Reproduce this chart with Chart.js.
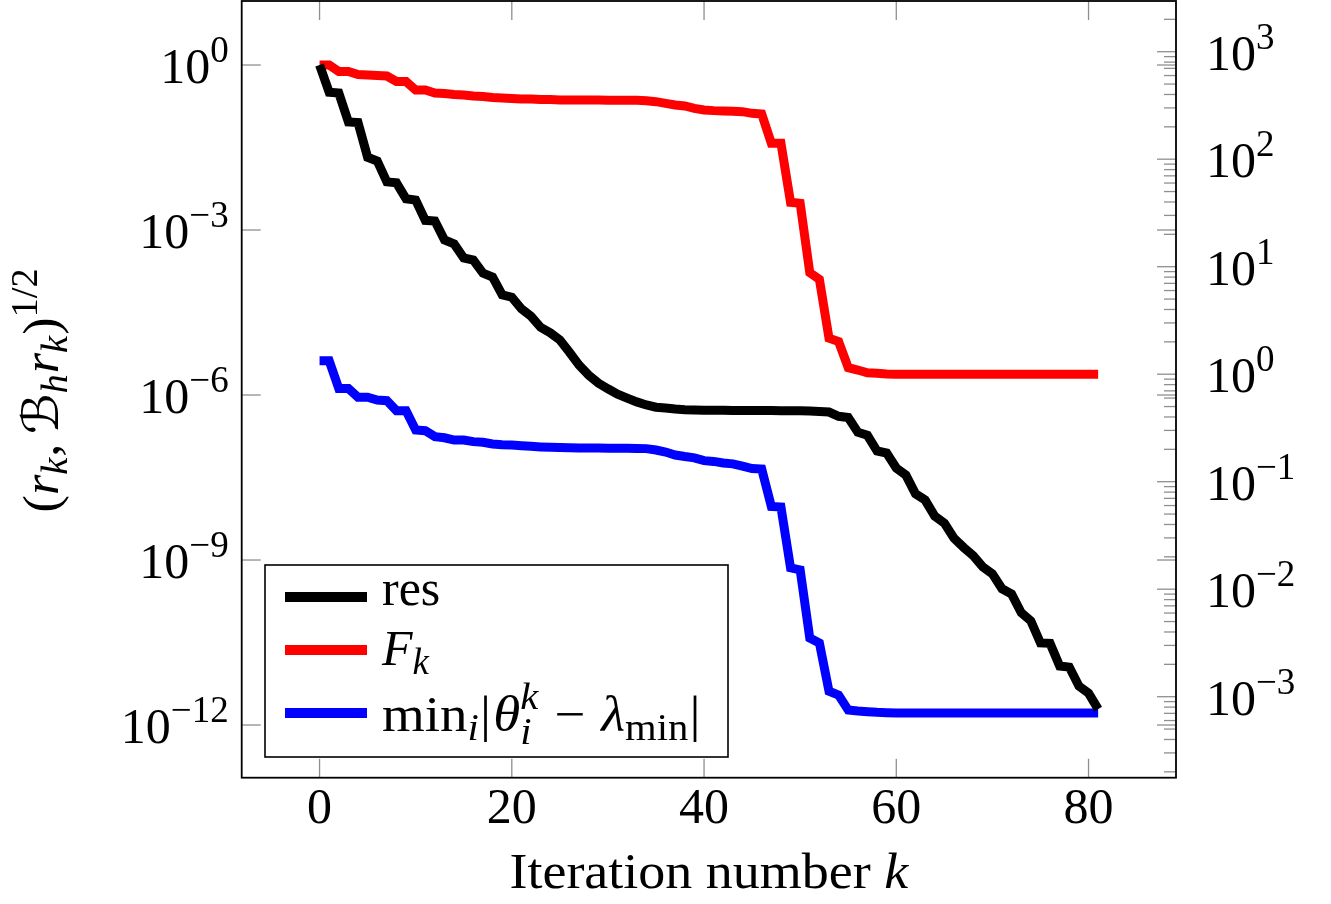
<!DOCTYPE html>
<html>
<head>
<meta charset="utf-8">
<script src="https://cdn.jsdelivr.net/npm/chart.js@4.4.1/dist/chart.umd.min.js"></script>
<style>
  html, body { margin: 0; padding: 0; background: #fff; }
  #wrap { width: 1331px; height: 904px; }
</style>
</head>
<body>
<div id="wrap"><canvas id="chart" width="1331" height="904"></canvas></div>
<script>
// ====== Data ======
const resValues = [
  1.0, 3.2e-1, 3.1e-1, 9.2e-2, 9.0e-2, 2.1e-2, 1.8e-2, 7.5e-3, 7.2e-3, 3.7e-3,
  3.5e-3, 1.5e-3, 1.46e-3, 6.6e-4, 5.6e-4, 3.1e-4, 2.85e-4, 1.65e-4, 1.4e-4, 6.6e-5,
  6.0e-5, 3.7e-5, 2.7e-5, 1.7e-5, 1.35e-5, 1.0e-5, 6.0e-6, 3.5e-6, 2.3e-6, 1.65e-6,
  1.3e-6, 1.04e-6, 8.8e-7, 7.5e-7, 6.6e-7, 6.0e-7, 5.8e-7, 5.55e-7, 5.4e-7, 5.35e-7,
  5.3e-7, 5.28e-7, 5.26e-7, 5.25e-7, 5.24e-7, 5.23e-7, 5.22e-7, 5.21e-7, 5.2e-7, 5.19e-7,
  5.18e-7, 5.1e-7, 5.0e-7, 4.9e-7, 4.1e-7, 3.9e-7, 2.1e-7, 1.85e-7, 9.6e-8, 8.8e-8,
  4.7e-8, 3.5e-8, 1.6e-8, 1.23e-8, 6.3e-9, 4.7e-9, 2.5e-9, 1.7e-9, 1.2e-9, 7.5e-10,
  5.6e-10, 3.0e-10, 2.4e-10, 1.1e-10, 7.8e-11, 3.1e-11, 3.05e-11, 1.18e-11, 1.13e-11, 5.1e-12,
  3.8e-12, 1.95e-12,
];

const fkValues = [
  752, 752, 655, 655, 614, 607, 601, 594, 528, 528,
  440, 440, 413, 408, 400, 396, 387, 383, 375, 371,
  367, 363, 363, 359, 359, 356, 356, 355, 355, 355,
  354, 354, 354, 353, 350, 343, 331, 319, 313, 297,
  287, 283, 281, 279, 277, 267, 263, 141, 141, 39.7,
  38.9, 8.79, 7.64, 2.16, 2.01, 1.15, 1.094, 1.03, 1.02, 1.005,
  1.0, 1.0, 1.0, 1.0, 1.0, 1.0, 1.0, 1.0, 1.0, 1.0,
  1.0, 1.0, 1.0, 1.0, 1.0, 1.0, 1.0, 1.0, 1.0, 1.0,
  1.0, 1.0,
];

const eigErrValues = [
  4.2e-6, 4.2e-6, 1.32e-6, 1.32e-6, 9.1e-7, 9.1e-7, 8.1e-7, 7.9e-7, 5.2e-7, 5.2e-7,
  2.31e-7, 2.25e-7, 1.75e-7, 1.67e-7, 1.52e-7, 1.52e-7, 1.42e-7, 1.38e-7, 1.29e-7, 1.25e-7,
  1.23e-7, 1.2e-7, 1.17e-7, 1.14e-7, 1.12e-7, 1.11e-7, 1.1e-7, 1.09e-7, 1.09e-7, 1.09e-7,
  1.08e-7, 1.08e-7, 1.08e-7, 1.07e-7, 1.06e-7, 1.0e-7, 9.2e-8, 8.1e-8, 7.6e-8, 7.2e-8,
  6.4e-8, 6.2e-8, 5.8e-8, 5.6e-8, 5.1e-8, 4.6e-8, 4.5e-8, 9.4e-9, 9.2e-9, 7.2e-10,
  6.6e-10, 3.8e-11, 3.1e-11, 4.1e-12, 3.5e-12, 1.87e-12, 1.8e-12, 1.75e-12, 1.7e-12, 1.67e-12,
  1.65e-12, 1.65e-12, 1.65e-12, 1.65e-12, 1.65e-12, 1.65e-12, 1.65e-12, 1.65e-12, 1.65e-12, 1.65e-12,
  1.65e-12, 1.65e-12, 1.65e-12, 1.65e-12, 1.65e-12, 1.65e-12, 1.65e-12, 1.65e-12, 1.65e-12, 1.65e-12,
  1.65e-12, 1.65e-12,
];

// iteration number k of each entry
const iterations = Array.from({ length: resValues.length }, (_, i) => i);

const xTicks = [0, 20, 40, 60, 80];
const leftTickExps = [0, -3, -6, -9, -12];
const rightTickExps = [3, 2, 1, 0, -1, -2, -3];

// axis limits
const xRange = [-8.1, 89.1];
const leftRange = [Math.pow(10, -12.958), Math.pow(10, 1.164)];
const rightRange = [Math.pow(10, -3.7535), Math.pow(10, 3.4716)];

// ====== Text helpers ======
const SERIF = '"Liberation Serif", "DejaVu Serif", serif';
const BIG = 50;
const SMALL = 37;
const F = {
  r: `${BIG}px ${SERIF}`,
  i: `italic ${BIG}px ${SERIF}`,
  sr: `${SMALL}px ${SERIF}`,
  si: `italic ${SMALL}px ${SERIF}`,
  cal: `italic ${BIG}px "DejaVu Serif", "DejaVu Sans", serif`,
};
const R = (t, gap = 0) => ({ t, f: F.r, dy: 0, gap });
const I = (t, gap = 0) => ({ t, f: F.i, dy: 0, gap });
const SubI = (t) => ({ t, f: F.si, dy: 9, gap: 1 });
const SubR = (t) => ({ t, f: F.sr, dy: 9, gap: 1 });
const Sup = (t) => ({ t, f: F.sr, dy: -21, gap: 2 });
const Stack = (top, bottom) => ({ stack: [top, bottom], f: F.si, gap: 2 });

function runWidth(ctx, r) {
  ctx.font = r.f;
  if (r.stack) {
    return Math.max(...r.stack.map((s) => ctx.measureText(s).width)) + r.gap;
  }
  return ctx.measureText(r.t).width + r.gap;
}

// draws a row of runs; sx stretches the row horizontally
function drawRich(ctx, runs, x, y, align, sx = 1) {
  const total = runs.reduce((s, r) => s + runWidth(ctx, r), 0) * sx;
  const startX = align === "right" ? x - total : align === "center" ? x - total / 2 : x;
  ctx.save();
  ctx.translate(startX, y);
  ctx.scale(sx, 1);
  ctx.textAlign = "left";
  ctx.textBaseline = "alphabetic";
  let cx = 0;
  runs.forEach((r) => {
    const w = runWidth(ctx, r);
    ctx.font = r.f;
    if (r.stack) {
      ctx.fillText(r.stack[0], cx, -22);
      ctx.fillText(r.stack[1], cx, 13);
    } else {
      ctx.fillText(r.t, cx, r.dy);
    }
    cx += w;
  });
  ctx.restore();
}

const powRuns = (e) => [R("10"), Sup(e < 0 ? "\u2212" + -e : String(e))];

// ====== Axes, ticks, labels and legend drawn in pgfplots style ======
const pgfAxes = {
  id: "pgfAxes",
  afterDraw(chart) {
    const { ctx, chartArea: a, scales } = chart;
    const MAJOR = 19;
    const MINOR = 12;
    const seg = (x1, y1, x2, y2) => {
      ctx.beginPath();
      ctx.moveTo(x1, y1);
      ctx.lineTo(x2, y2);
      ctx.stroke();
    };

    ctx.save();

    // tick marks
    ctx.strokeStyle = "#8f8f8f";
    ctx.lineWidth = 1.3;
    xTicks.forEach((v) => {
      const px = scales.x.getPixelForValue(v);
      seg(px, a.bottom, px, a.bottom - MAJOR);
      seg(px, a.top, px, a.top + MAJOR);
    });
    leftTickExps.forEach((e) => {
      const py = scales.y.getPixelForValue(Math.pow(10, e));
      seg(a.left, py, a.left + MAJOR, py);
      seg(a.right, py, a.right - MAJOR, py);
    });
    for (let e = -4; e <= 3; e++) {
      for (let m = 1; m <= 9; m++) {
        const v = m * Math.pow(10, e);
        if (v < rightRange[0] || v > rightRange[1]) continue;
        const py = scales.y1.getPixelForValue(v);
        seg(a.right, py, a.right - (m === 1 ? MAJOR : MINOR), py);
      }
    }

    // frame
    ctx.strokeStyle = "#000";
    ctx.lineWidth = 1.8;
    ctx.strokeRect(a.left, a.top, a.right - a.left, a.bottom - a.top);

    // tick labels
    ctx.fillStyle = "#000";
    xTicks.forEach((v) => {
      drawRich(ctx, [R(String(v))], scales.x.getPixelForValue(v), a.bottom + 45, "center");
    });
    leftTickExps.forEach((e) => {
      const py = scales.y.getPixelForValue(Math.pow(10, e));
      drawRich(ctx, powRuns(e), a.left - 11, py + 18, "right");
    });
    rightTickExps.forEach((e) => {
      const py = scales.y1.getPixelForValue(Math.pow(10, e));
      drawRich(ctx, powRuns(e), a.right + 30, py + 18, "left");
    });

    // axis titles
    drawRich(ctx, [R("Iteration number "), I("k")], (a.left + a.right) / 2, 888, "center", 1.08);
    ctx.save();
    ctx.translate(58, (a.top + a.bottom) / 2);
    ctx.rotate(-Math.PI / 2);
    drawRich(ctx, [
      R("("), I("r"), SubI("k"), R(",", 9), { t: "\u212C", f: F.cal, dy: 0, gap: 0 },
      SubI("h"), I("r"), SubI("k"), R(")"), Sup("1/2"),
    ], 0, 0, "center", 1.04);
    ctx.restore();

    // legend
    const box = { x: 265, y: 565, w: 463, h: 192 };
    ctx.fillStyle = "#fff";
    ctx.fillRect(box.x, box.y, box.w, box.h);
    ctx.strokeStyle = "#000";
    ctx.lineWidth = 1.6;
    ctx.strokeRect(box.x, box.y, box.w, box.h);
    const entries = [
      { color: chart.data.datasets[0].borderColor, lineY: 597, textY: 605, sx: 1.0, runs: [R("res")] },
      { color: chart.data.datasets[1].borderColor, lineY: 650, textY: 665, sx: 1.0, runs: [I("F"), SubI("k")] },
      {
        color: chart.data.datasets[2].borderColor, lineY: 713, textY: 731, sx: 1.1,
        runs: [R("min"), SubI("i"), R("|", 2), I("\u03B8"), Stack("k", "i"),
               R(" \u2212 ", 2), I("\u03BB"), SubR("min"), R("|")],
      },
    ];
    entries.forEach((en) => {
      ctx.strokeStyle = en.color;
      ctx.lineWidth = 10;
      seg(285, en.lineY, 367, en.lineY);
      ctx.fillStyle = "#000";
      drawRich(ctx, en.runs, 382, en.textY, "left", en.sx);
    });

    ctx.restore();
  },
};

// ====== Chart Initialization ======
const toPoints = (vals) => vals.map((v, i) => ({ x: iterations[i], y: v }));
const hiddenAxis = {
  ticks: { display: false },
  grid: { display: false },
  border: { display: false },
};

const chart = new Chart(document.getElementById("chart"), {
  type: "line",
  data: {
    datasets: [
      { label: "res", data: toPoints(resValues), borderColor: "#000000", yAxisID: "y" },
      { label: "F_k", data: toPoints(fkValues), borderColor: "#ff0000", yAxisID: "y1" },
      { label: "min_i|theta_i^k - lambda_min|", data: toPoints(eigErrValues), borderColor: "#0000ff", yAxisID: "y" },
    ],
  },
  options: {
    responsive: false,
    animation: false,
    devicePixelRatio: 1,
    layout: { padding: { top: 1, left: 0, right: 0, bottom: 0 } },
    elements: {
      line: { borderWidth: 9, tension: 0, borderJoinStyle: "miter", borderCapStyle: "butt", fill: false },
      point: { radius: 0 },
    },
    plugins: { legend: { display: false }, tooltip: { enabled: false } },
    scales: {
      x: {
        type: "linear", min: xRange[0], max: xRange[1], ...hiddenAxis,
        afterFit: (s) => { s.height = 126.3; },
      },
      y: {
        type: "logarithmic", position: "left", min: leftRange[0], max: leftRange[1], ...hiddenAxis,
        afterFit: (s) => { s.width = 241.7; },
      },
      y1: {
        type: "logarithmic", position: "right", min: rightRange[0], max: rightRange[1], ...hiddenAxis,
        afterFit: (s) => { s.width = 155; },
      },
    },
  },
  plugins: [pgfAxes],
});
</script>
</body>
</html>
